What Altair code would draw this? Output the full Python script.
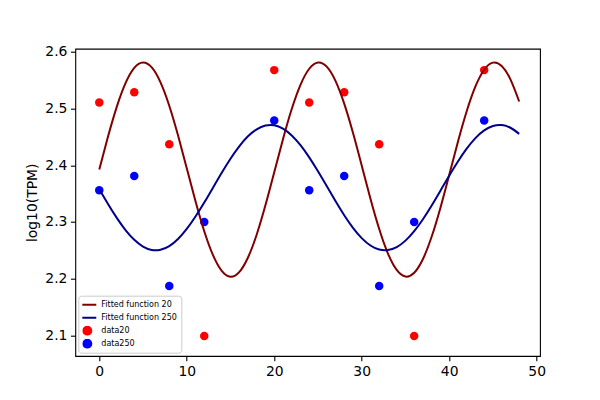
import altair as alt
import pandas as pd

# ---- data ----
t_points = [0, 4, 8, 12, 20, 24, 28, 32, 36, 44]
data20 = [2.511, 2.529, 2.437, 2.099, 2.568, 2.511, 2.529, 2.437, 2.099, 2.568]
data250 = [2.356, 2.381, 2.187, 2.300, 2.479, 2.356, 2.381, 2.187, 2.300, 2.479]

t_fit = list(range(0, 49))
fit20 = [2.3925, 2.4507, 2.5032, 2.5450, 2.5720, 2.5815, 2.5727, 2.5464, 2.5052, 2.4529,
         2.3949, 2.3366, 2.2837, 2.2415, 2.2138, 2.2035, 2.2116, 2.2373, 2.2780, 2.3298,
         2.3878, 2.4461, 2.4993, 2.5421, 2.5704, 2.5814, 2.5741, 2.5491, 2.5089, 2.4574,
         2.3996, 2.3411, 2.2876, 2.2443, 2.2154, 2.2037, 2.2103, 2.2346, 2.2743, 2.3253,
         2.3830, 2.4416, 2.4954, 2.5392, 2.5687, 2.5812, 2.5753, 2.5517, 2.5126]
fit250 = [2.3579, 2.3318, 2.3072, 2.2857, 2.2685, 2.2566, 2.2506, 2.2510, 2.2575, 2.2700,
          2.2877, 2.3096, 2.3343, 2.3606, 2.3869, 2.4116, 2.4335, 2.4512, 2.4636, 2.4702,
          2.4706, 2.4646, 2.4527, 2.4355, 2.4140, 2.3894, 2.3633, 2.3369, 2.3119, 2.2897,
          2.2716, 2.2585, 2.2513, 2.2504, 2.2557, 2.2671, 2.2838, 2.3049, 2.3292, 2.3553,
          2.3817, 2.4068, 2.4294, 2.4480, 2.4616, 2.4694, 2.4710, 2.4663, 2.4555]

series_names = ["Fitted function 20", "Fitted function 250", "data20", "data250"]
series_colors = ["#800000", "#00008b", "#ff0000", "#0000ff"]
x_ticks = [0, 10, 20, 30, 40, 50]
y_ticks = [2.1, 2.2, 2.3, 2.4, 2.5, 2.6]

lines_df = pd.concat([
    pd.DataFrame({"t": t_fit, "v": fit20, "series": series_names[0]}),
    pd.DataFrame({"t": t_fit, "v": fit250, "series": series_names[1]}),
])
points_df = pd.concat([
    pd.DataFrame({"t": t_points, "v": data20, "series": series_names[2]}),
    pd.DataFrame({"t": t_points, "v": data250, "series": series_names[3]}),
])

FONT = "DejaVu Sans"
line_path = "M-2.25,0H2.25"

xs = alt.Scale(domain=[-2.74, 50.38], nice=False, zero=False)
ys = alt.Scale(domain=[2.0635, 2.6058], nice=False, zero=False)

x_enc = alt.X("t:Q", scale=xs, title=None,
              axis=alt.Axis(values=x_ticks, format="d"))
y_enc = alt.Y("v:Q", scale=ys, title="log10(TPM)",
              axis=alt.Axis(values=y_ticks, format=".1f"))

legend = alt.Legend(
    title=None, orient="bottom-left", offset=3,
    labelFont=FONT, labelFontSize=8, labelColor="black",
    symbolSize=64, symbolStrokeWidth=2,
    strokeColor="#cccccc", fillColor="rgba(255,255,255,0.8)", cornerRadius=3,
    padding=4, rowPadding=3, labelOffset=9, clipHeight=10,
)

color_scale = alt.Scale(domain=series_names, range=series_colors)
shape_scale = alt.Scale(domain=series_names, range=[line_path, line_path, "circle", "circle"])

points = alt.Chart(points_df).mark_point(filled=True, size=72, opacity=1, strokeWidth=0).encode(
    x=x_enc, y=y_enc,
    fill=alt.Fill("series:N", scale=color_scale, legend=legend),
    shape=alt.Shape("series:N", scale=shape_scale, legend=legend),
)

lines = alt.Chart(lines_df).mark_line(strokeWidth=2, interpolate="natural").encode(
    x=x_enc, y=y_enc,
    stroke=alt.Stroke("series:N", scale=color_scale, legend=legend),
    detail="series:N",
)

chart = alt.layer(points, lines).properties(
    width=464.7, height=307.3,
    autosize="none",
    background="white",
    padding={"left": 67.3, "top": 40.7, "right": 52, "bottom": 36},
).configure(
    font=FONT
).configure_view(
    stroke="black", strokeWidth=1.1, fill="white"
).configure_axis(
    grid=False, domain=False,
    labelFont=FONT, labelFontSize=13.9, labelColor="black",
    titleFont=FONT, titleFontSize=13.9, titleColor="black", titleFontWeight="normal",
    tickColor="black", tickSize=4.86, tickWidth=1.1, labelPadding=3.5,
).configure_axisY(
    titlePadding=5,
)

chart.save("out.html", embed_options={"renderer": "svg", "actions": False})
